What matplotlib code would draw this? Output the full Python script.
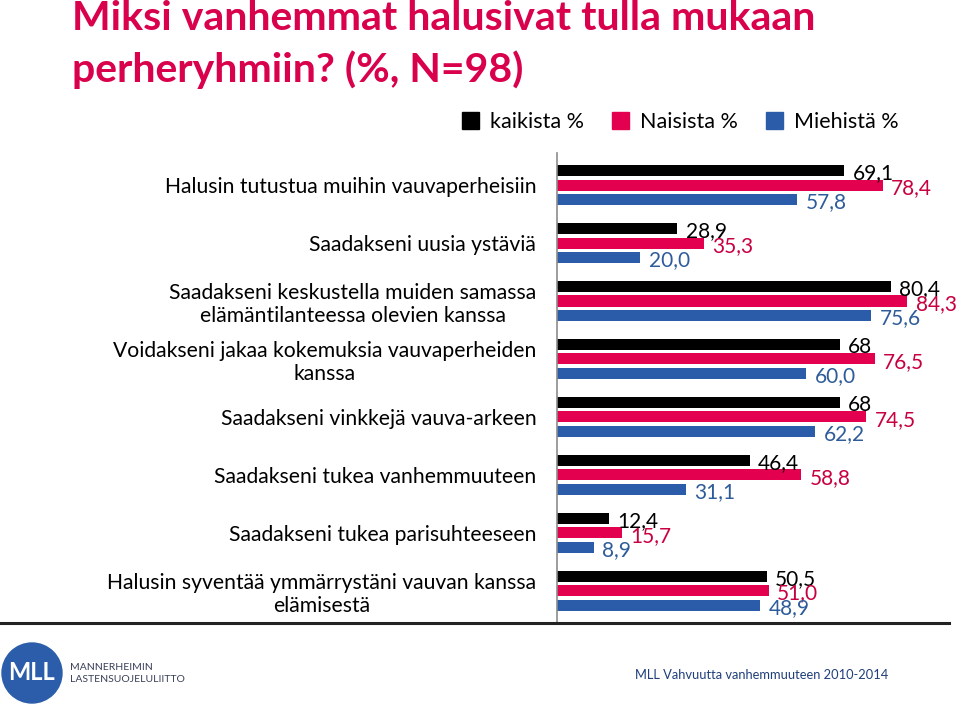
import numpy as np
import matplotlib.pyplot as plt
from matplotlib.lines import Line2D
from matplotlib.patches import Ellipse, Patch

plt.rcParams['font.family'] = ['Lato', 'DejaVu Sans']

categories = [
    "Halusin tutustua muihin vauvaperheisiin",
    "Saadakseni uusia ystäviä",
    "Saadakseni keskustella muiden samassa\nelämäntilanteessa olevien kanssa",
    "Voidakseni jakaa kokemuksia vauvaperheiden\nkanssa",
    "Saadakseni vinkkejä vauva-arkeen",
    "Saadakseni tukea vanhemmuuteen",
    "Saadakseni tukea parisuhteeseen",
    "Halusin syventää ymmärrystäni vauvan kanssa\nelämisestä",
]
kaikista = [69.1, 28.9, 80.4, 68, 68, 46.4, 12.4, 50.5]
naisista = [78.4, 35.3, 84.3, 76.5, 74.5, 58.8, 15.7, 51.0]
miehista = [57.8, 20.0, 75.6, 60.0, 62.2, 31.1, 8.9, 48.9]
kaikista_labels = ["69,1", "28,9", "80,4", "68", "68", "46,4", "12,4", "50,5"]
naisista_labels = ["78,4", "35,3", "84,3", "76,5", "74,5", "58,8", "15,7", "51,0"]
miehista_labels = ["57,8", "20,0", "75,6", "60,0", "62,2", "31,1", "8,9", "48,9"]
series_names = ["kaikista %", "Naisista %", "Miehistä %"]

black = "#000000"
red = "#E2004F"
blue = "#2A5CAA"
red_txt = "#C8003F"
blue_txt = "#2E5C9A"
title_col = "#D9004C"

fig = plt.figure(figsize=(9.59, 7.06), dpi=100)
ax = fig.add_axes([0.581, 0.118, 0.41, 0.665])

y = np.arange(len(categories))
h = 0.19
step = 0.25
series = [(kaikista, kaikista_labels, black, black, -step),
          (naisista, naisista_labels, red, red_txt, 0),
          (miehista, miehista_labels, blue, blue_txt, step)]
for vals, labs, col, tcol, off in series:
    ax.barh(y + off, vals, height=h, color=col)
    for yi, v, lab in zip(y, vals, labs):
        ax.annotate(lab, (v, yi + off), xytext=(6, -2), textcoords='offset points',
                    ha='left', va='center', fontsize=15, color=tcol)

ax.set_xlim(0, 94.7)
ax.set_ylim(len(categories) - 0.45, -0.55)
ax.set_yticks(y)
ax.set_yticklabels(categories, fontsize=15.2)
for t in ax.get_yticklabels():
    t.set_multialignment('center')
ax.tick_params(axis='y', length=0, pad=15)
ax.set_xticks([])
for s in ['top', 'right', 'bottom']:
    ax.spines[s].set_visible(False)
ax.spines['left'].set_color('#8c8c8c')
ax.spines['left'].set_linewidth(1.2)

# bottom rule across the slide
fig.add_artist(Line2D([0, 0.99], [1 - 623 / 706] * 2, color='#222222', lw=2.2))

# legend
handles = [Patch(color=c) for c in (black, red, blue)]
fig.legend(handles, series_names, loc='center', bbox_to_anchor=(0.709, 1 - 122 / 706),
           ncol=3, frameon=False, fontsize=15.5, handlelength=0.8, handleheight=0.8,
           handletextpad=0.5, columnspacing=1.3)

# title
fig.text(0.075, 1 - 18 / 706, "Miksi vanhemmat halusivat tulla mukaan", fontsize=29.5,
         fontweight='bold', color=title_col, va='center', ha='left')
fig.text(0.075, 1 - 70 / 706, "perheryhmiin? (%, N=98)", fontsize=29.5,
         fontweight='bold', color=title_col, va='center', ha='left')

# logo and footer
fig.add_artist(Ellipse((32 / 959, 1 - 673 / 706), 60 / 959, 60 / 706,
                       transform=fig.transFigure, color='#2B5DAA'))
fig.text(32 / 959, 1 - 672 / 706, "MLL", fontsize=17, fontweight='bold', color='white',
         ha='center', va='center')
fig.text(70 / 959, 1 - 667 / 706, "MANNERHEIMIN", fontsize=7.5, color='#3a3f58',
         ha='left', va='center')
fig.text(70 / 959, 1 - 680 / 706, "LASTENSUOJELULIITTO", fontsize=7.5, color='#3a3f58',
         ha='left', va='center')
fig.text(635 / 959, 1 - 675 / 706, "MLL Vahvuutta vanhemmuuteen 2010-2014", fontsize=9.3,
         color='#1F3F7A', ha='left', va='center')

fig.savefig('out.png', dpi=100)
